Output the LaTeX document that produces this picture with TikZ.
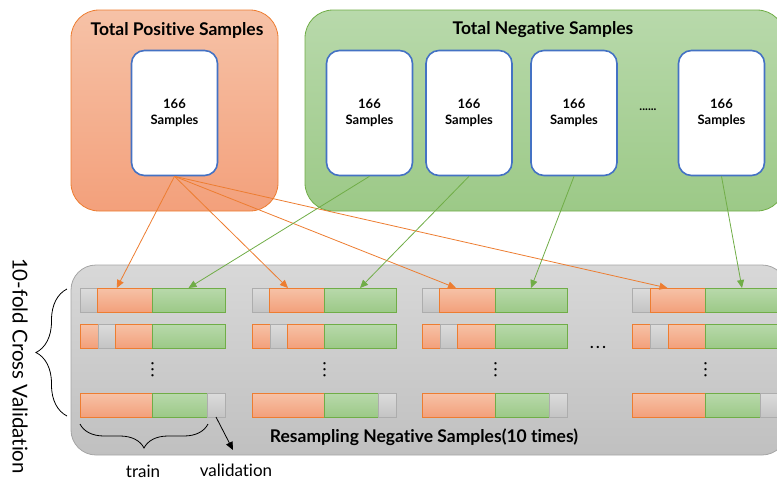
\documentclass[tikz,border=0pt]{standalone}
\usepackage{fontspec}
\setmainfont[Ligatures=NoCommon]{Lato}
\usepackage{tikz}
\usetikzlibrary{shapes, arrows.meta, positioning, decorations.pathreplacing}
\definecolor{posline}{HTML}{ED7D31}
\definecolor{postop}{HTML}{F6C2A7}
\definecolor{posbot}{HTML}{F3A07B}
\definecolor{negline}{HTML}{70AD47}
\definecolor{negtop}{HTML}{B8D9AB}
\definecolor{negbot}{HTML}{9CC987}
\definecolor{cvline}{HTML}{A5A5A5}
\definecolor{cvtop}{HTML}{D8D8D8}
\definecolor{cvbot}{HTML}{C0C0C0}
\definecolor{valline}{HTML}{ADADAD}
\definecolor{valtop}{HTML}{DCDCDC}
\definecolor{valbot}{HTML}{C4C4C4}
\definecolor{sampleline}{HTML}{4472C4}

\begin{document}
\begin{tikzpicture}[x=1pt, y=-1pt]
\tikzset{edge/.style = {-{Triangle[length=8pt, width=7pt]}, line width=0.8pt},
	bigbox/.style = {rectangle, inner sep=0pt, line width=0.8pt},
	posbox/.style = {bigbox, rounded corners=28pt, draw=posline, top color=postop, bottom color=posbot, minimum width=207pt, minimum height=201pt},
	negbox/.style = {bigbox, rounded corners=28pt, draw=negline, top color=negtop, bottom color=negbot, minimum width=480pt, minimum height=201pt},
	cvbox/.style = {bigbox, rounded corners=25pt, draw=cvline, top color=cvtop, bottom color=cvbot, minimum width=716pt, minimum height=190pt},
	title/.style = {font=\bfseries\fontsize{17.5}{20}\selectfont},
	sample/.style = {rectangle, rounded corners=13pt, draw=sampleline, fill=white, line width=1.6pt, minimum width=86pt, minimum height=125pt, align=center, font=\bfseries\fontsize{13}{16.5}\selectfont},
	bar/.style = {rectangle, anchor=west, minimum height=24pt, inner sep=0pt, outer sep=0pt, line width=1pt},
	ob/.style = {bar, minimum width=#1, draw=posline, top color=postop, bottom color=posbot},
	nb/.style = {bar, minimum width=#1, draw=negline, top color=negtop, bottom color=negbot},
	vb/.style = {bar, minimum width=#1, draw=valline, top color=valtop, bottom color=valbot},
	dotrow/.style = {anchor=base, inner sep=0pt, font=\bfseries\fontsize{15}{16}\selectfont},
	dotcol/.style = {dotrow, rotate=90},
	lbl/.style = {inner sep=1pt, font=\fontsize{17}{19}\selectfont},
	brace/.style = {decorate, decoration={brace, amplitude=#1}, line width=0.8pt}}
\useasboundingbox (0,0) rectangle (777,480);
            % boxes
	\node[posbox] (pos) at (174.5,110.5) {};
	\node[negbox] (neg) at (545,110.5) {};
	\node[cvbox] (cv) at (429,360) {};
	\node[title] (postitle) at (177,30) {Total Positive Samples};
	\node[title] (negtitle) at (543,30) {Total Negative Samples};
	\node[title] (cvtitle) at (424,437) {Resampling Negative Samples(10 times)};
            % samples
	\node[sample] (p) at (174.5,113) {166\\Samples};
	\node[sample] (n1) at (369.5,113) {166\\Samples};
	\node[sample] (n2) at (469,113) {166\\Samples};
	\node[sample] (n3) at (574,113) {166\\Samples};
	\node[sample] (n4) at (721.5,113) {166\\Samples};
	\node[font=\bfseries\fontsize{12}{12}\selectfont] (ndots) at (648,110) {......};
            % set a
	\node[vb=17.5pt] (a1v) at (80,300) {};
	\node[ob=54.5pt] (a1o) at (97.5,300) {};
	\node[nb=73pt] (a1n) at (152,300) {};
	\node[ob=18pt] (a2o) at (80,336) {};
	\node[vb=17pt] (a2v) at (98,336) {};
	\node[ob=37pt] (a2p) at (115,336) {};
	\node[nb=73pt] (a2n) at (152,336) {};
	\node[ob=72pt] (a3o) at (80,405) {};
	\node[nb=55pt] (a3n) at (152,405) {};
	\node[vb=18pt] (a3v) at (207,405) {};
	\node[dotcol] (adots) at (153.5,370) {.\,.\,.};
            % set b
	\node[vb=17pt] (b1v) at (252,300) {};
	\node[ob=55pt] (b1o) at (269,300) {};
	\node[nb=72pt] (b1n) at (324,300) {};
	\node[ob=18pt] (b2o) at (252,336) {};
	\node[vb=17pt] (b2v) at (270,336) {};
	\node[ob=37pt] (b2p) at (287,336) {};
	\node[nb=72pt] (b2n) at (324,336) {};
	\node[ob=72pt] (b3o) at (252,405) {};
	\node[nb=54pt] (b3n) at (324,405) {};
	\node[vb=18pt] (b3v) at (378,405) {};
	\node[dotcol] (bdots) at (325.5,370) {.\,.\,.};
            % set c
	\node[vb=17pt] (c1v) at (422,300) {};
	\node[ob=56pt] (c1o) at (439,300) {};
	\node[nb=72pt] (c1n) at (495,300) {};
	\node[ob=18pt] (c2o) at (422,336) {};
	\node[vb=17pt] (c2v) at (440,336) {};
	\node[ob=38pt] (c2p) at (457,336) {};
	\node[nb=72pt] (c2n) at (495,336) {};
	\node[ob=73pt] (c3o) at (422,405) {};
	\node[nb=54pt] (c3n) at (495,405) {};
	\node[vb=18pt] (c3v) at (549,405) {};
	\node[dotcol] (cdots) at (496.5,370) {.\,.\,.};
            % set d
	\node[vb=18pt] (d1v) at (632,300) {};
	\node[ob=55pt] (d1o) at (650,300) {};
	\node[nb=74pt] (d1n) at (705,300) {};
	\node[ob=18pt] (d2o) at (632,336) {};
	\node[vb=18pt] (d2v) at (650,336) {};
	\node[ob=37pt] (d2p) at (668,336) {};
	\node[nb=74pt] (d2n) at (705,336) {};
	\node[ob=73pt] (d3o) at (632,405) {};
	\node[nb=55pt] (d3n) at (705,405) {};
	\node[vb=18pt] (d3v) at (760,405) {};
	\node[dotcol] (ddots) at (706.5,370) {.\,.\,.};
	\node[dotrow] (setdots) at (598,348.5) {.\,.\,.};
            % labels
	\node[rotate=-90, font=\fontsize{20.5}{22}\selectfont] (cvlabel) at (20,366) {10-fold Cross Validation};
	\node[lbl] (train) at (143,471) {train};
	\node[lbl] (val) at (236,470) {validation};
	\coordinate (cvtop) at (67,289);
	\coordinate (cvbot) at (67,416);
	\coordinate (trainl) at (80,424);
	\coordinate (trainr) at (208,424);
	\coordinate (valtip) at (233,450);
            %edges
	\draw[edge, posline] (p.south) to ([xshift=-8pt]a1o.north);
	\draw[edge, posline] (p.south) to ([xshift=-8.5pt]b1o.north);
	\draw[edge, posline] (p.south) to ([xshift=-11pt]c1o.north);
	\draw[edge, posline] (p.south) to ([xshift=-10pt]d1o.north);
	\draw[edge, negline] (n1.south) to (a1n.north);
	\draw[edge, negline] (n2.south) to (b1n.north);
	\draw[edge, negline] (n3.south) to (c1n.north);
	\draw[edge, negline] (n4.south) to (d1n.north);
	\draw[edge, black] (a3v.south) to (valtip);
	\draw[brace=31pt] (cvbot) to (cvtop);
	\draw[brace=24pt] (trainr) to (trainl);
\end{tikzpicture}
\end{document}
